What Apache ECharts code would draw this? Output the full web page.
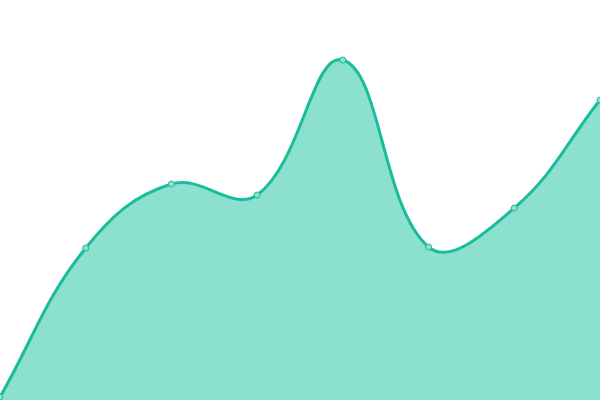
<!DOCTYPE html>
<html><head><meta charset="utf-8">
<script src="https://cdn.jsdelivr.net/npm/echarts@6/dist/echarts.min.js"></script>
<style>html,body{margin:0;padding:0;background:#fff}#c{width:600px;height:400px}</style>
</head><body><div id="c"></div>
<script>
const categories = ['1','2','3','4','5','6','7','8'];
const values = [3, 152, 216, 205, 340, 153, 192, 300];
const TENSION = 0.4;

function splinePath(pts, tension, w, h) {
  // cardinal-like spline (same form as Chart.js splineCurve)
  const cps = pts.map((p, i) => {
    const prev = pts[i - 1] || p, next = pts[i + 1] || p;
    const d01 = Math.hypot(p[0] - prev[0], p[1] - prev[1]);
    const d12 = Math.hypot(next[0] - p[0], next[1] - p[1]);
    let s01 = d01 / (d01 + d12), s12 = d12 / (d01 + d12);
    s01 = isNaN(s01) ? 0 : s01; s12 = isNaN(s12) ? 0 : s12;
    const fa = tension * s01, fb = tension * s12;
    const clamp = (v, lo, hi) => Math.max(lo, Math.min(hi, v));
    return {
      prev: [clamp(p[0] - fa * (next[0] - prev[0]), 0, w), clamp(p[1] - fa * (next[1] - prev[1]), 0, h)],
      next: [clamp(p[0] + fb * (next[0] - prev[0]), 0, w), clamp(p[1] + fb * (next[1] - prev[1]), 0, h)]
    };
  });
  let d = 'M' + pts[0][0] + ' ' + pts[0][1];
  for (let i = 1; i < pts.length; i++) {
    const a = cps[i - 1].next, b = cps[i].prev;
    d += ' C' + a[0] + ' ' + a[1] + ' ' + b[0] + ' ' + b[1] + ' ' + pts[i][0] + ' ' + pts[i][1];
  }
  return d;
}

const chart = echarts.init(document.getElementById('c'));
chart.setOption({
  animation: false,
  grid: {left: 0, right: 0, top: 0, bottom: 0},
  xAxis: {type: 'category', data: categories, boundaryGap: false, show: false},
  yAxis: {type: 'value', min: 0, max: 400, show: false},
  series: [{
    type: 'custom',
    data: values.map((v, i) => [i, v]),
    clip: true,
    z: 1,
    renderItem: function (params, api) {
      if (params.dataIndex !== 0) return null;
      const pts = values.map((v, i) => api.coord([i, v]));
      const base = api.coord([0, 0])[1];
      const w = params.coordSys.width, h = params.coordSys.height;
      const line = splinePath(pts, TENSION, w, h);
      const area = line + ' L' + pts[pts.length - 1][0] + ' ' + base + ' L' + pts[0][0] + ' ' + base + ' Z';
      return {
        type: 'group',
        children: [
          {type: 'path', shape: {pathData: area}, style: {fill: '#8be0cf', stroke: null}},
          {type: 'path', shape: {pathData: line}, style: {fill: null, stroke: '#1abc9c', lineWidth: 3}}
        ]
      };
    }
  }, {
    type: 'line', data: values, smooth: false,
    z: 3,
    symbol: 'circle', symbolSize: 6,
    lineStyle: {width: 0, opacity: 0},
    itemStyle: {color: '#8be0cf', borderColor: '#1abc9c', borderWidth: 1}
  }]
});
</script></body></html>
